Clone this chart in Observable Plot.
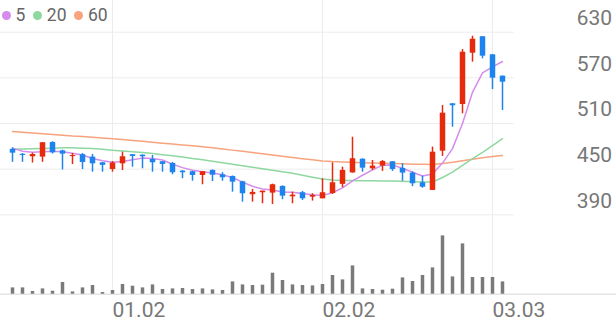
<!DOCTYPE html>
<html><head><meta charset="utf-8">
<script src="https://cdn.jsdelivr.net/npm/d3@7"></script>
<script src="https://cdn.jsdelivr.net/npm/@observablehq/plot@0.6"></script>
<style>
html,body{margin:0;padding:0;background:#fff;}
#chart{position:relative;width:616px;height:321px;overflow:hidden;font-family:Roboto,sans-serif;}
#chart svg{display:block;}
.legend{position:absolute;left:0;top:5px;height:21px;display:flex;align-items:center;font-size:17.5px;color:#666;line-height:21px;white-space:nowrap;}
.legend .dot{display:inline-block;width:9px;height:9px;border-radius:50%;margin:0 5px 0 1.5px;}
.legend .lab{margin-right:6px;}
</style></head><body><div id="chart"></div>
<script>
const dates = ["12.16","12.17","12.18","12.19","12.22","12.23","12.24","12.26","12.29","12.30",
  "01.02","01.05","01.06","01.07","01.08","01.09","01.12","01.13","01.14","01.15",
  "01.16","01.19","01.20","01.21","01.22","01.23","01.26","01.27","01.28","01.29",
  "01.30","02.02","02.03","02.04","02.05","02.06","02.09","02.10","02.11","02.12",
  "02.13","02.19","02.20","02.23","02.24","02.25","02.26","02.27","03.03","03.04"];
const opens = [476,469.5,466.3,465.8,485,474,466.5,469,465.8,458.4,
  449.6,457,469,468.4,462.7,459.7,457.5,447.4,446.6,441.7,
  448.3,442.6,440.4,433.4,416.4,419,418.5,427.3,413.7,419,
  413.2,411,418,430,445,463.1,450.5,454,459.7,451,
  444.8,432.1,422,473.6,535.9,535,602.4,624,600.3,572.2];
const highs = [478,470.6,471,485,486,475,470.6,470.6,469.3,458.6,
  460,472.3,469.2,468.6,468,460,458.8,448,447,447,
  449,445.3,441,434,423.3,421.3,430.3,428,419.8,420.7,
  417.7,437.4,458.4,452.6,492,463.5,461.4,461.4,460,457,
  446.6,440.8,479,533.7,536,607.3,624.7,624.3,600.5,572.4];
const lows = [459,459,458,459,470,449,456,449.6,446,446,
  446,448.3,452.6,450.5,446,446,442.6,437.4,434.2,429.5,
  433.8,434.2,419.8,406.6,406.6,404.5,403.6,409.8,404.5,408.9,
  408,411,416.8,425.5,444.8,446,448.3,447,447,434.2,
  427,425,422,466.7,505.2,522.8,590.6,595,554.7,527.1];
const closes = [471,468,469.3,484.7,471.5,469.7,468,458.8,457,455,
  458,466.3,466.7,466.3,458.4,456.2,445.3,445.3,441.7,446.6,
  442,438.7,432.9,417.7,419.4,421.1,429.5,414.5,415.8,411.1,
  415.5,419,432.1,448.3,463.7,451.3,454,460,449.6,444.8,
  430.8,426.3,472.3,523.6,533.3,603.7,620.8,598.5,569.6,564.3];
const volumes = [63,63,27,53,30,117,23,63,87,17,
  37,97,80,63,93,47,53,57,47,53,
  43,37,123,93,87,90,210,137,93,87,
  83,97,187,143,283,53,47,40,50,163,
  127,187,263,583,173,503,167,167,167,123];
const ma5 = [477.6,473.6,472.3,472.8,473.5,473,471,468.5,464,461,
  459,460,462.5,464.5,464,462,456.5,452,448.5,446.5,
  445,442.5,439,433,427.5,424,422.5,420,419.5,418,
  416.5,415.5,419,425.3,434.5,442,449,455.2,455.3,451.2,
  446,441,443.5,458,477,510,551,576.5,584.5,591.5];
const ma20 = [476.3,476.5,476.8,477.2,477.6,478,478,477.6,477,476,
  475,474,473,472,470.5,469,467.5,466,464,462.3,
  460.5,458.5,456.5,454.5,452.5,450.5,448.5,446.5,444.5,442,
  439.5,437,435.8,435.2,435,434.8,434.6,434.4,434.3,434.2,
  433.6,433,433,439,446,455,463.7,472,481,490];
const ma60 = [499.5,498.5,497.5,496.5,495.5,494.5,493.5,492.8,492,491,
  490,489,487.8,486.6,485.4,484.2,483,481.8,480.6,479.4,
  478,476.5,475,473.4,471.8,470.2,468.6,467,465.4,463.8,
  462.3,460.8,460,459.5,459,458.5,458,457.6,457.3,457,
  456.6,456.3,456.2,457.5,459,461,463,465,466.5,468];
const yTicks = [390,450,510,570,630];
const xTickDates = ["01.02","02.02","03.03"];
const seriesNames = ["5","20","60"];
const seriesColors = ["#d58cec","#8ed8a0","#f7a37e"];

const RED = "#e62b0d", BLUE = "#1d83ee", GRID = "#ececec";
const data = dates.map((d,i)=>({date:d, open:opens[i], high:highs[i], low:lows[i], close:closes[i],
  vol:volumes[i], ma5:ma5[i], ma20:ma20[i], ma60:ma60[i]}));
const candleColor = d => d.close >= d.open ? RED : BLUE;
const MR = 102.4, PAD = 0.556;

const price = Plot.plot({
  width: 616, height: 230, marginTop: 31.7, marginBottom: 15.7, marginLeft: 0, marginRight: MR,
  style: {fontFamily: "Roboto, sans-serif", background: "transparent", color: "#777", overflow: "visible"},
  x: {type: "point", domain: dates, padding: PAD, axis: null},
  y: {domain: [390, 630], axis: null},
  marks: [
    Plot.gridY(yTicks, {stroke: GRID, strokeOpacity: 1}),
    Plot.ruleX(xTickDates, {stroke: GRID, insetTop: -31.7, insetBottom: -15.7}),
    Plot.axisY(yTicks, {anchor: "right", tickSize: 0, tickPadding: 98, textAnchor: "end", dy: -14, fontSize: 21, fill: "#777", label: null}),
    Plot.lineY(data, {x: "date", y: "ma60", stroke: seriesColors[2], strokeWidth: 1.5}),
    Plot.lineY(data, {x: "date", y: "ma20", stroke: seriesColors[1], strokeWidth: 1.5}),
    Plot.lineY(data, {x: "date", y: "ma5", stroke: seriesColors[0], strokeWidth: 1.5}),
    Plot.ruleX(data, {x: "date", y1: "low", y2: "high", stroke: candleColor, strokeWidth: 1.5}),
    Plot.ruleX(data, {x: "date", y1: "open", y2: "close", stroke: candleColor, strokeWidth: 5.5})
  ]
});

const vol = Plot.plot({
  width: 616, height: 91, marginTop: 0, marginBottom: 27.3, marginLeft: 0, marginRight: MR,
  style: {fontFamily: "Roboto, sans-serif", background: "transparent", color: "#777", overflow: "visible"},
  x: {type: "point", domain: dates, padding: PAD, axis: null},
  y: {domain: [0, 637], axis: null},
  marks: [
    Plot.ruleX(xTickDates, {stroke: GRID}),
    Plot.ruleY([0], {stroke: "#e4e4e4", strokeWidth: 1.5, insetRight: -MR}),
    Plot.ruleX(data, {x: "date", y1: 0, y2: "vol", stroke: "#7a7a7a", strokeWidth: 3.5}),
    Plot.axisX(xTickDates, {tickSize: 0, tickPadding: 7.5, textAnchor: "start", dx: 0, fontSize: 21, fill: "#777", label: null})
  ]
});

const chart = document.getElementById("chart");
chart.appendChild(price);
chart.appendChild(vol);

const legend = document.createElement("div");
legend.className = "legend";
seriesNames.forEach((n,i)=>{
  const dot = document.createElement("span");
  dot.className = "dot"; dot.style.background = seriesColors[i];
  const lab = document.createElement("span");
  lab.className = "lab"; lab.textContent = n;
  legend.appendChild(dot); legend.appendChild(lab);
});
chart.appendChild(legend);
</script>
</body></html>
